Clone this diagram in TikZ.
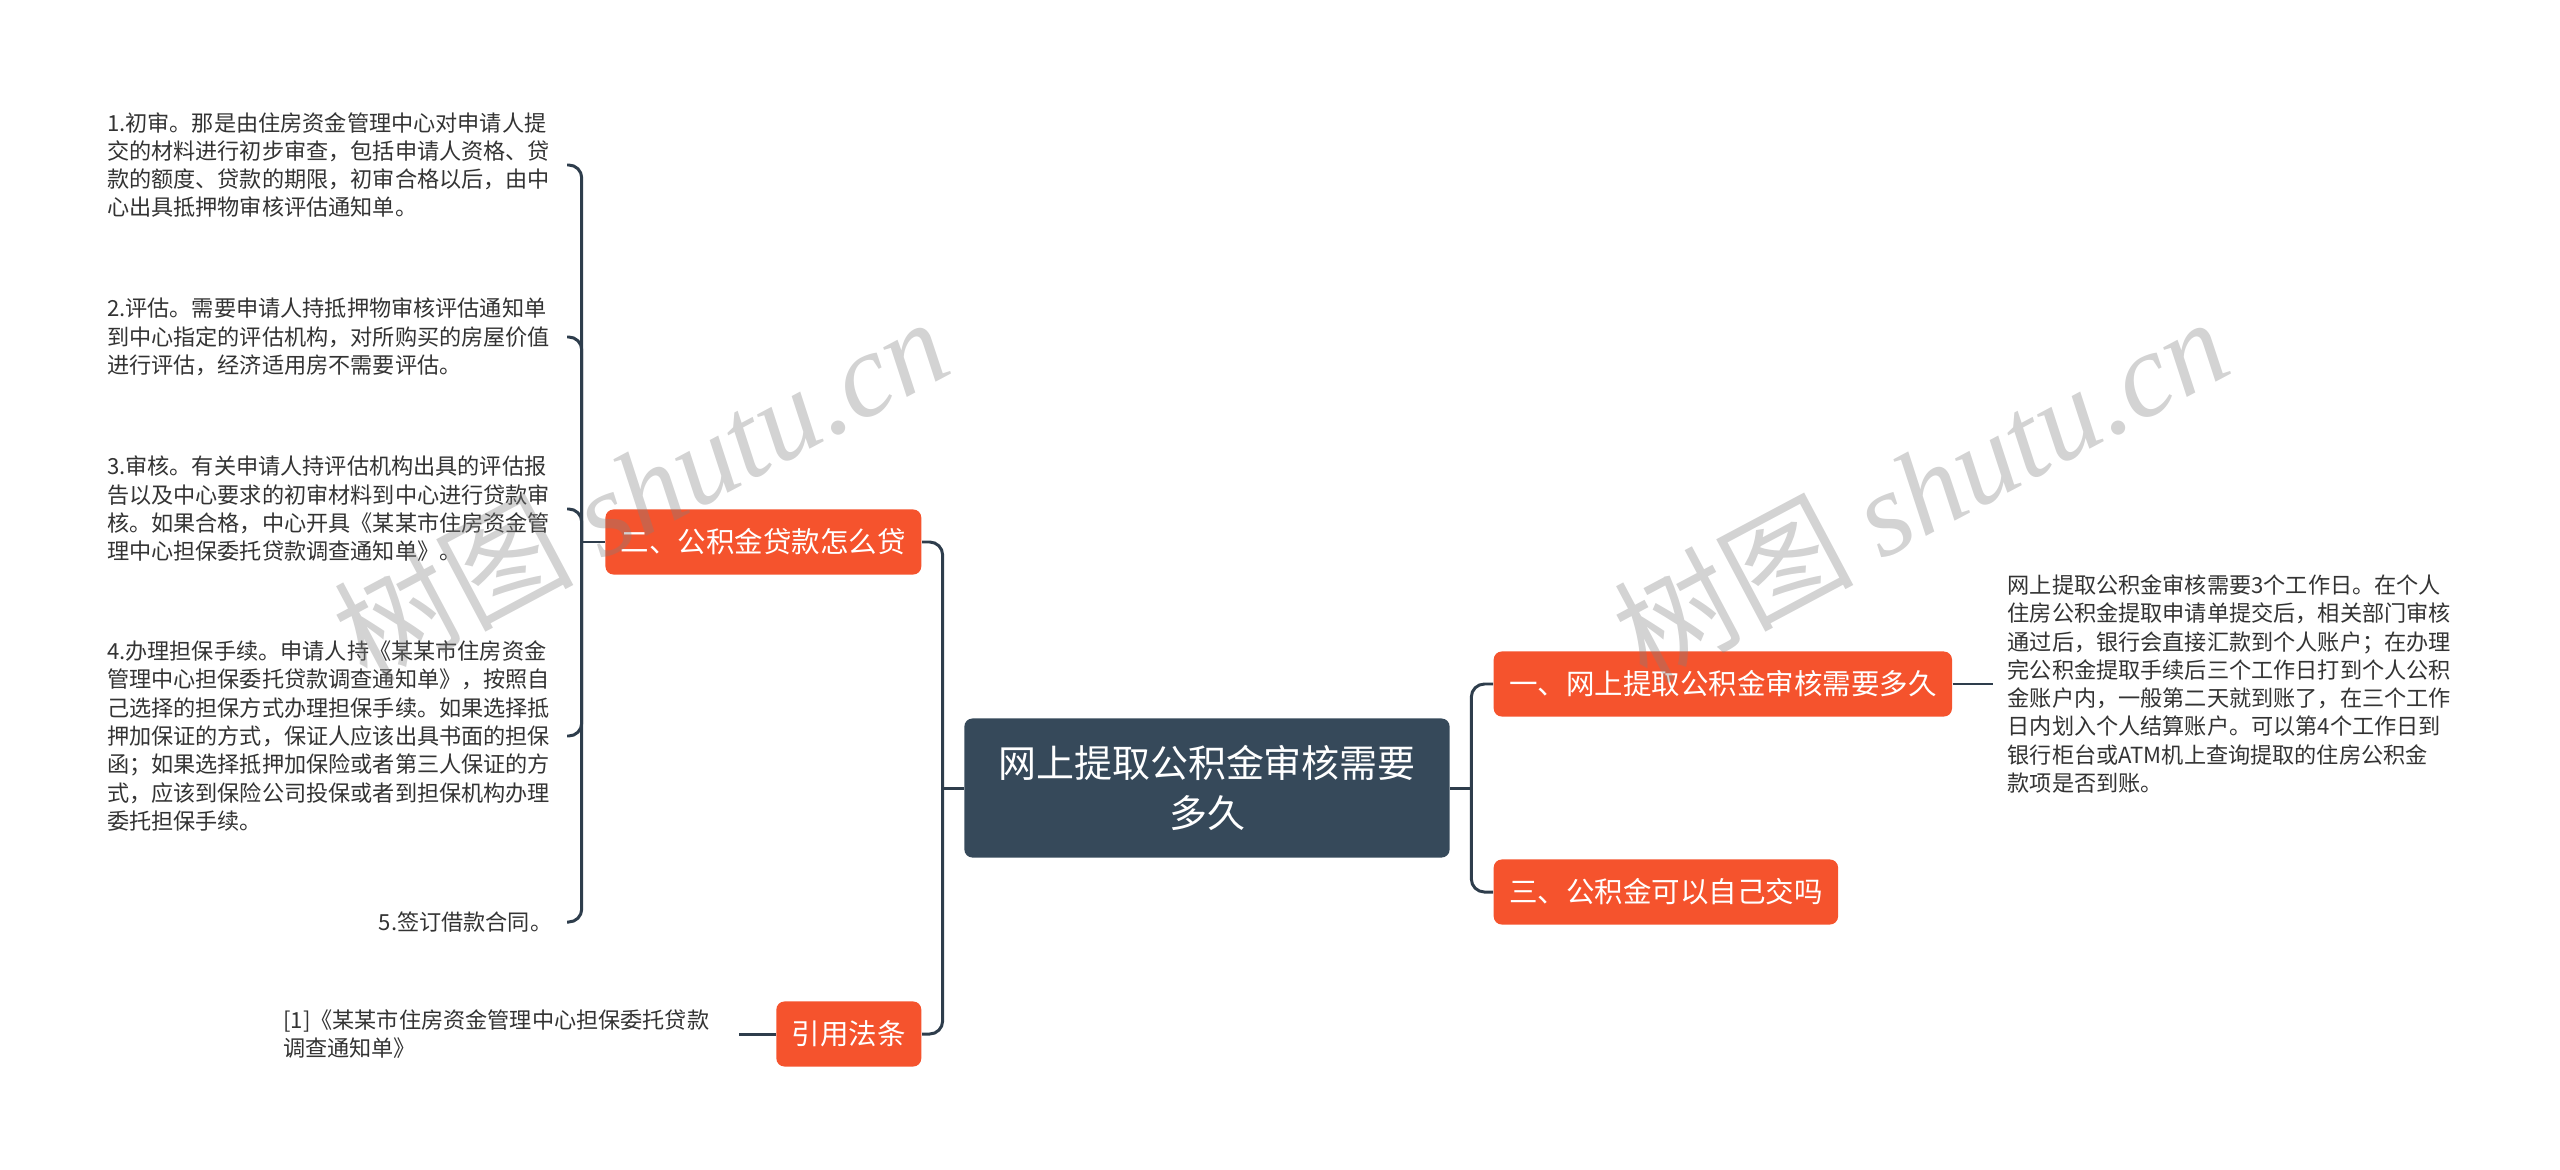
\documentclass[tikz,border=0pt]{standalone}
\usepackage{fontspec}
\setmainfont{Noto Sans CJK SC}
\newfontfamily\markfont{Liberation Serif}
\usepackage{pgf,tikz}
\usetikzlibrary{positioning}

\definecolor{rootblue}{HTML}{36495A}
\definecolor{topicred}{HTML}{F5532D}
\definecolor{linkgray}{HTML}{2E3D4C}
\definecolor{leafgray}{HTML}{333333}

\begin{document}
\begin{tikzpicture}[x=0.01cm, y=-0.01cm,
    rootbox/.style={fill=rootblue, text=white, rounded corners=2.3pt, minimum width=4.85cm, minimum height=1.39cm, align=center, font=\fontsize{10.8pt}{14pt}\selectfont},
    topic/.style={fill=topicred, text=white, rounded corners=2.3pt, minimum height=0.65cm, inner xsep=0.155cm, font=\fontsize{8.1pt}{10pt}\selectfont},
    leaf/.style={text=leafgray, align=left, inner xsep=0.14cm, inner ysep=0pt, font=\fontsize{6.3pt}{8.05pt}\selectfont},
    link/.style={draw=linkgray, line width=0.85pt, rounded corners=3.7pt},
    wmark/.style={text=black!50, opacity=0.35, rotate=28, font=\fontsize{34pt}{34pt}\selectfont}]
      \useasboundingbox (0,0) rectangle (2560,1170);

      \node[rootbox] (main) at (1207,788) {网上提取公积金审核需要\\多久};

      \node[topic, anchor=west] (q1) at (1493,684) {一、网上提取公积金审核需要多久};
      \node[topic, anchor=west] (q3) at (1493,892) {三、公积金可以自己交吗};
      \node[topic, anchor=east] (q2) at (922,542) {二、公积金贷款怎么贷};
      \node[topic, anchor=east] (cite) at (922,1034) {引用法条};

      \node[leaf, anchor=west] (a1) at (1993,684)
      {网上提取公积金审核需要3个工作日。在个人\\住房公积金提取申请单提交后，相关部门审核\\通过后，银行会直接汇款到个人账户；在办理\\完公积金提取手续后三个工作日打到个人公积\\金账户内，一般第二天就到账了，在三个工作\\日内划入个人结算账户。可以第4个工作日到\\银行柜台或ATM机上查询提取的住房公积金\\款项是否到账。};

      \node[leaf, anchor=east, text width=4.45cm] (s1) at (567,165)
      {1.初审。那是由住房资金管理中心对申请人提\\交的材料进行初步审查，包括申请人资格、贷\\款的额度、贷款的期限，初审合格以后，由中\\心出具抵押物审核评估通知单。};
      \node[leaf, anchor=east, text width=4.45cm] (s2) at (567,337)
      {2.评估。需要申请人持抵押物审核评估通知单\\到中心指定的评估机构，对所购买的房屋价值\\进行评估，经济适用房不需要评估。};
      \node[leaf, anchor=east, text width=4.45cm] (s3) at (567,509)
      {3.审核。有关申请人持评估机构出具的评估报\\告以及中心要求的初审材料到中心进行贷款审\\核。如果合格，中心开具《某某市住房资金管\\理中心担保委托贷款调查通知单》。};
      \node[leaf, anchor=east, text width=4.45cm] (s4) at (567,736)
      {4.办理担保手续。申请人持《某某市住房资金\\管理中心担保委托贷款调查通知单》，按照自\\己选择的担保方式办理担保手续。如果选择抵\\押加保证的方式，保证人应该出具书面的担保\\函；如果选择抵押加保险或者第三人保证的方\\式，应该到保险公司投保或者到担保机构办理\\委托担保手续。};
      \node[leaf, anchor=east] (s5) at (567,922) {5.签订借款合同。};

      \node[leaf, anchor=east, inner xsep=0.29cm] (law) at (739,1034)
      {[1]《某某市住房资金管理中心担保委托贷款\\调查通知单》};

      \draw[link] (main.west) -- ++(-21,0) coordinate (jl);
      \draw[link] (jl) |- (q2.east);
      \draw[link] (jl) |- (cite.east);
      \draw[link] (main.east) -- ++(21,0) coordinate (jr);
      \draw[link] (jr) |- (q1.west);
      \draw[link] (jr) |- (q3.west);
      \draw[link] (q1.east) -- (a1.west);
      \draw[link] (q2.west) -- ++(-23,0) coordinate (jq);
      \foreach \i in {1,...,5} \draw[link] (jq) |- (s\i.east);
      \draw[link] (law.east) -- (cite.west);

      \node[wmark] (wm1) at (640,488) {树图 {\markfont\itshape shutu.cn}};
      \node[wmark] (wm2) at (1920,488) {树图 {\markfont\itshape shutu.cn}};
\end{tikzpicture}
\end{document}
